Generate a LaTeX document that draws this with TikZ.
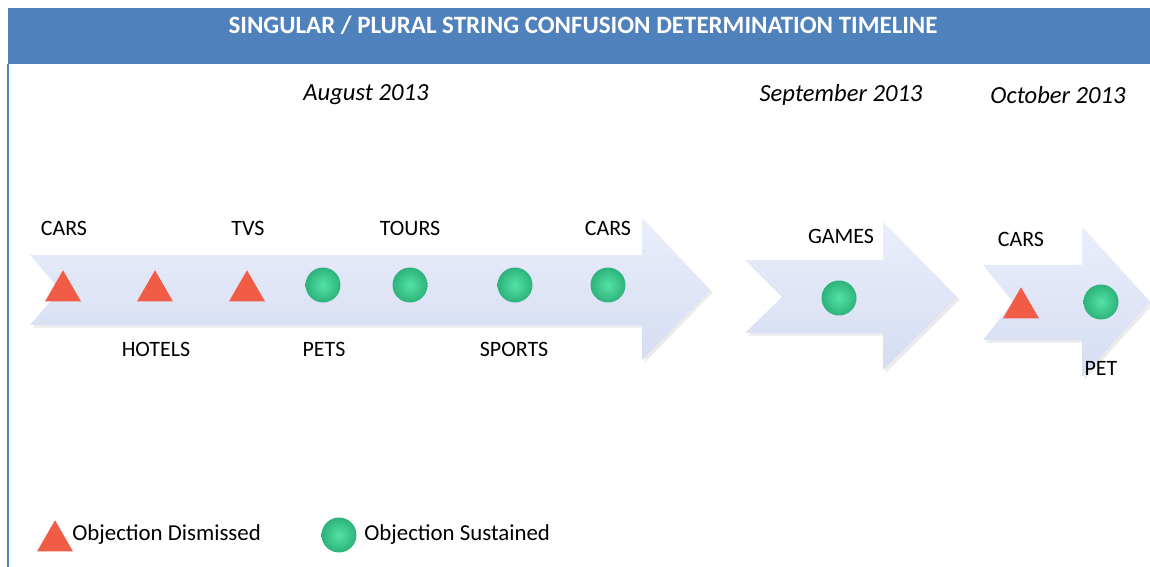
\documentclass[tikz,border=0pt]{standalone}
\usepackage{fontspec}
\setmainfont{Carlito}
\usetikzlibrary{shapes.geometric,shadows}
\definecolor{headblue}{RGB}{79,129,189}
\definecolor{dismissred}{RGB}{240,92,70}
\definecolor{sustaingreen}{RGB}{50,198,136}
\definecolor{sustainlight}{RGB}{84,226,166}
\definecolor{arrowlight}{RGB}{234,238,251}
\definecolor{arrowdark}{RGB}{214,221,242}
\newcommand{\HeaderColor}{headblue}
\newcommand{\DismissedColor}{dismissred}
\newcommand{\SustainedColor}{sustaingreen}

\begin{document}
\begin{tikzpicture}[
	% pixel grid of the reference, y pointing down
	x=0.02cm, y=-0.02cm,
	lbl/.style={font=\fontsize{12.5}{15}\selectfont, inner sep=0pt},
	keytext/.style={font=\fontsize{13}{15}\selectfont, inner sep=0pt, anchor=west},
	month/.style={font=\fontsize{14}{16}\selectfont\itshape, inner sep=0pt},
	timearrow/.style={top color=arrowlight, bottom color=arrowdark,
		drop shadow={shadow xshift=1.5pt, shadow yshift=-1.5pt, opacity=0.2, fill=black!40}},
	dismissed/.style={regular polygon, regular polygon sides=3, minimum size=0.83cm, inner sep=0pt,
		fill=\DismissedColor},
	sustained/.style={circle, minimum size=0.7cm, inner sep=0pt,
		inner color=sustainlight, outer color=\SustainedColor!90!black}
	]
	% \draw[help lines, step=50] (0,0) grid (1150,567);
	\useasboundingbox (0,0) rectangle (1150,567);

	% header and frame
	\fill[\HeaderColor] (8,8) rectangle (1150,64);
	\draw[\HeaderColor, line width=1.2pt] (8,64) -- (8,567);
	\node[font=\fontsize{14.2}{16}\selectfont\bfseries, text=white] (title) at (583,25)
		{SINGULAR / PLURAL STRING CONFUSION DETERMINATION TIMELINE};

	% months
	\node[month] (august) at (366,95) {August 2013};
	\node[month] (september) at (841,95) {September 2013};
	\node[month] (october) at (1058,95) {October 2013};

	% arrows
	\shade[timearrow] (30,255) -- (642,255) -- (642,218) -- (710,290) -- (642,360)
		-- (642,325) -- (30,325) -- (60,290) -- cycle;
	\shade[timearrow] (745,260) -- (883,260) -- (883,222) -- (957,297) -- (883,370)
		-- (883,333) -- (745,333) -- (782,297) -- cycle;
	\shade[timearrow] (983,265) -- (1082,265) -- (1082,227) -- (1150,302) -- (1082,377)
		-- (1082,340) -- (983,340) -- (1013,302) -- cycle;

	% August
	\node[dismissed] (cars_1) at (63,291) {};
	\node[dismissed] (hotels) at (155,291) {};
	\node[dismissed] (tvs) at (247,291) {};
	\node[sustained] (pets) at (323,285) {};
	\node[sustained] (tours) at (410,285) {};
	\node[sustained] (sports) at (515,285) {};
	\node[sustained] (cars_2) at (608,285) {};

	\node[lbl] at (64,228) {CARS};
	\node[lbl] at (156,349) {HOTELS};
	\node[lbl] at (248,228) {TVS};
	\node[lbl] at (324,349) {PETS};
	\node[lbl] at (410,228) {TOURS};
	\node[lbl] at (514,349) {SPORTS};
	\node[lbl] at (608,228) {CARS};

	% September
	\node[sustained] (games) at (839,298) {};
	\node[lbl] at (841,236) {GAMES};

	% October
	\node[dismissed] (cars_3) at (1021,308) {};
	\node[sustained] (pet) at (1101,302) {};
	\node[lbl] at (1021,239) {CARS};
	\node[lbl] at (1101,368) {PET};

	% legend
	\node[dismissed] (key_dismissed) at (55,541) {};
	\node[keytext] (key_dismissed_text) at (72,535) {Objection Dismissed};
	\node[sustained] (key_sustained) at (339,535) {};
	\node[keytext] (key_sustained_text) at (364,535) {Objection Sustained};

\end{tikzpicture}
\end{document}
